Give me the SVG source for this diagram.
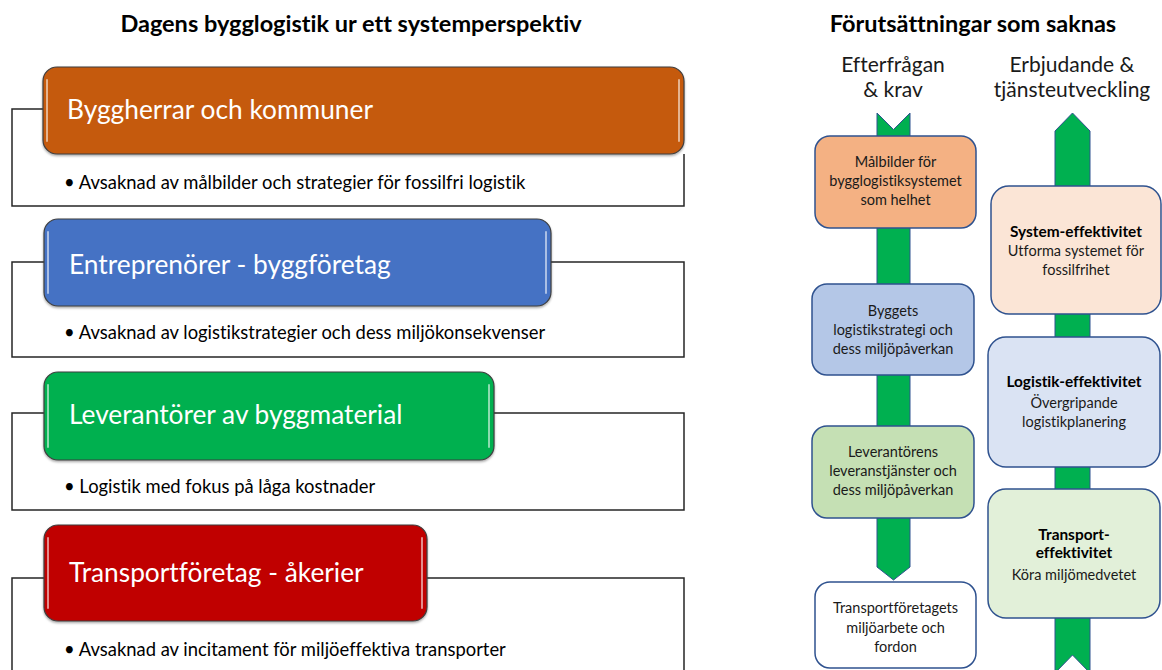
<svg xmlns="http://www.w3.org/2000/svg" width="1162" height="670" viewBox="0 0 1162 670">
  <style>
    text { font-family: Lato, "Liberation Sans", sans-serif; fill: #000; font-variant-ligatures: none; font-feature-settings: "liga" 0, "dlig" 0; }
    .title { font-size: 23.5px; font-weight: bold; text-anchor: middle; }
    .colhead { font-size: 21px; text-anchor: middle; fill: #1a1a1a; }
    .head { font-size: 26.3px; fill: #fff; }
    .bullet { font-size: 18.4px; }
    .frame { fill: none; stroke: #262626; stroke-width: 1.5; }
    .hbox { stroke: #3f3f3f; stroke-width: 1.2; }
    .gloss { stroke: #fff; stroke-opacity: 0.55; stroke-width: 2; stroke-linecap: round; fill: none; }
    .arrow { fill: #00b050; stroke: #2f528f; stroke-width: 1; }
    .card { stroke: #2f528f; stroke-width: 1.5; }
    .ct { font-size: 14.5px; text-anchor: middle; fill: #1a1a1a; }
    .ctb { font-size: 15.4px; text-anchor: middle; font-weight: bold; }
  </style>
  <defs>
    <filter id="shadow" x="-5%" y="-10%" width="110%" height="130%">
      <feDropShadow dx="0" dy="1.5" stdDeviation="1.2" flood-color="#000" flood-opacity="0.35"/>
    </filter>
  </defs>

  <rect width="1162" height="670" fill="#fff"/>

  <!-- Left panel -->
  <text class="title" x="351" y="32">Dagens bygglogistik ur ett systemperspektiv</text>

  <g id="frames">
    <path class="frame" d="M45,109 H12 V206 H684 V154"/>
    <path class="frame" d="M45,262 H12 V357 H684 V262 H551"/>
    <path class="frame" d="M45,413 H12 V510 H684 V413 H494"/>
    <path class="frame" d="M45,578 H12 V672 M684,672 V578 H427"/>
  </g>

  <g id="byggherrar">
    <rect class="hbox" x="43" y="67" width="641" height="87" rx="14" fill="#c55a11" filter="url(#shadow)"/>
    <path class="gloss" d="M47,80 V141 M679,80 V141"/>
    <text class="head" x="67" y="119">Byggherrar och kommuner</text>
    <text class="bullet" x="64" y="189">• Avsaknad av målbilder och strategier för fossilfri logistik</text>
  </g>

  <g id="entreprenorer">
    <rect class="hbox" x="44" y="219" width="507" height="87" rx="14" fill="#4472c4" filter="url(#shadow)"/>
    <path class="gloss" d="M48,232 V293 M546,232 V293"/>
    <text class="head" x="69" y="274">Entreprenörer - byggföretag</text>
    <text class="bullet" x="64" y="339">• Avsaknad av logistikstrategier och dess miljökonsekvenser</text>
  </g>

  <g id="leverantorer">
    <rect class="hbox" x="44" y="372" width="450" height="88" rx="14" fill="#00b050" filter="url(#shadow)"/>
    <path class="gloss" d="M48,385 V447 M489,385 V447"/>
    <text class="head" x="69" y="424">Leverantörer av byggmaterial</text>
    <text class="bullet" x="64" y="493">• Logistik med fokus på låga kostnader</text>
  </g>

  <g id="transportforetag">
    <rect class="hbox" x="44" y="525" width="383" height="96" rx="14" fill="#c00000" filter="url(#shadow)"/>
    <path class="gloss" d="M48,538 V608 M422,538 V608"/>
    <text class="head" x="69" y="582">Transportföretag - åkerier</text>
    <text class="bullet" x="64" y="656">• Avsaknad av incitament för miljöeffektiva transporter</text>
  </g>

  <!-- Right panel -->
  <text class="title" x="973" y="32">Förutsättningar som saknas</text>
  <text class="colhead" x="893" y="72">Efterfrågan</text>
  <text class="colhead" x="893" y="97">&amp; krav</text>
  <text class="colhead" x="1072" y="72">Erbjudande &amp;</text>
  <text class="colhead" x="1072" y="97">tjänsteutveckling</text>

  <g id="connectors">
    <polygon class="arrow" points="877,113 893.5,129.5 910,113 910,567 893.5,580 877,567"/>
    <polygon class="arrow" points="1072.5,113 1090,131 1090,673 1072.5,655 1055,673 1055,131"/>
  </g>

  <g id="malbilder">
    <rect class="card" x="815" y="136" width="161" height="92" rx="15" fill="#f4b183"/>
    <text class="ct" x="895.5" y="167">Målbilder för</text>
    <text class="ct" x="895.5" y="186">bygglogistiksystemet</text>
    <text class="ct" x="895.5" y="205">som helhet</text>
  </g>

  <g id="byggets">
    <rect class="card" x="812" y="284" width="162" height="91" rx="15" fill="#b4c7e7"/>
    <text class="ct" x="893" y="316">Byggets</text>
    <text class="ct" x="893" y="335">logistikstrategi och</text>
    <text class="ct" x="893" y="354">dess miljöpåverkan</text>
  </g>

  <g id="leverantorens">
    <rect class="card" x="812" y="426" width="162" height="92" rx="15" fill="#c5e0b4"/>
    <text class="ct" x="893" y="457">Leverantörens</text>
    <text class="ct" x="893" y="476">leveranstjänster och</text>
    <text class="ct" x="893" y="495">dess miljöpåverkan</text>
  </g>

  <g id="transportforetagets">
    <rect class="card" x="815" y="582" width="161" height="86" rx="15" fill="#ffffff"/>
    <text class="ct" x="895.5" y="613">Transportföretagets</text>
    <text class="ct" x="895.5" y="633">miljöarbete och</text>
    <text class="ct" x="895.5" y="652">fordon</text>
  </g>

  <g id="systemeffektivitet">
    <rect class="card" x="991" y="186" width="170" height="128" rx="18" fill="#fbe5d6"/>
    <text class="ctb" x="1076" y="237">System-effektivitet</text>
    <text class="ct" x="1076" y="256">Utforma systemet för</text>
    <text class="ct" x="1076" y="275">fossilfrihet</text>
  </g>

  <g id="logistikeffektivitet">
    <rect class="card" x="988" y="337" width="172" height="130" rx="18" fill="#dae3f3"/>
    <text class="ctb" x="1074" y="387">Logistik-effektivitet</text>
    <text class="ct" x="1074" y="408">Övergripande</text>
    <text class="ct" x="1074" y="427">logistikplanering</text>
  </g>

  <g id="transporteffektivitet">
    <rect class="card" x="988" y="489" width="172" height="129" rx="18" fill="#e2f0d9"/>
    <text class="ctb" x="1074" y="540">Transport-</text>
    <text class="ctb" x="1074" y="558">effektivitet</text>
    <text class="ct" x="1074" y="580">Köra miljömedvetet</text>
  </g>
</svg>
